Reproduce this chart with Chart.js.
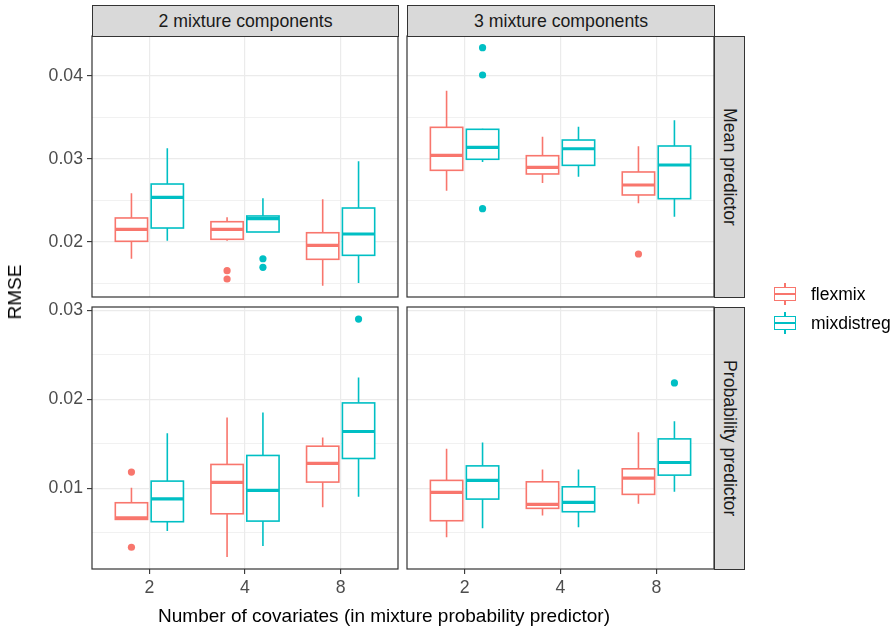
<!DOCTYPE html>
<html>
<head>
<meta charset="utf-8">
<script src="https://cdn.jsdelivr.net/npm/chart.js@4.4.1/dist/chart.umd.min.js"></script>
<style>
    body { margin: 0; background: #fff; font-family: "Liberation Sans", Arial, sans-serif; }
    #wrap { position: relative; width: 896px; height: 630px; overflow: hidden; }
    #wrap canvas { position: absolute; left: 0; top: 0; }
    .strip { position: absolute; background: #D9D9D9; border: 1.2px solid #333; box-sizing: border-box;
             color: #1A1A1A; font-size: 17.7px; display: flex; align-items: center; justify-content: center; }
    .strip.v span { writing-mode: vertical-rl; }
    .title { position: absolute; color: #000; font-size: 19px; white-space: nowrap; }
    .key { position: absolute; width: 24px; height: 22px; }
    .key .box { position: absolute; left: 1px; top: 4px; width: 22px; height: 14px; border: 1.6px solid; box-sizing: border-box; background: #fff; }
    .key .med { position: absolute; left: 1px; top: 10px; width: 22px; height: 2px; }
    .key .wh { position: absolute; left: 11px; width: 1.6px; }
    .ltext { position: absolute; font-size: 17.5px; color: #000; line-height: 20px; }
</style>
</head>
<body>
<div id="wrap">
    <canvas id="cTL" width="896" height="630"></canvas>
    <canvas id="cTR" width="896" height="630"></canvas>
    <canvas id="cBL" width="896" height="630"></canvas>
    <canvas id="cBR" width="896" height="630"></canvas>

    <div class="strip" style="left:92px;top:5px;width:307px;height:32px;">2 mixture components</div>
    <div class="strip" style="left:407px;top:5px;width:308px;height:32px;">3 mixture components</div>
    <div class="strip v" style="left:714px;top:36px;width:31px;height:262px;"><span>Mean predictor</span></div>
    <div class="strip v" style="left:714px;top:307px;width:31px;height:263px;"><span>Probability predictor</span></div>

    <div class="title" style="left:384px;top:605px;transform:translateX(-50%);">Number of covariates (in mixture probability predictor)</div>
    <div class="title" style="left:15px;top:292px;transform:translate(-50%,-50%) rotate(-90deg);">RMSE</div>

    <div id="legend"></div>
</div>

<script>
    const categories = ["2", "4", "8"];
    const seriesNames = ["flexmix", "mixdistreg"];
    const seriesColors = ["#F8766D", "#00BFC4"];

    // each box: [lower whisker, q1, median, q3, upper whisker]
    const meanK2Flexmix = [
        [0.01795, 0.02005, 0.02149, 0.02286, 0.02583],
        [0.02012, 0.02029, 0.02149, 0.02241, 0.02294],
        [0.01470, 0.01788, 0.01957, 0.02108, 0.02511]
    ];
    const meanK2Mixdistreg = [
        [0.02012, 0.02165, 0.02535, 0.02695, 0.03125],
        [0.02117, 0.02117, 0.02277, 0.02310, 0.02523],
        [0.01502, 0.01836, 0.02093, 0.02406, 0.02969]
    ];
    const meanK2FlexmixOut = [[], [0.01651, 0.01551], []];
    const meanK2MixdistregOut = [[], [0.01795, 0.01692], []];

    const meanK3Flexmix = [
        [0.02614, 0.02860, 0.03041, 0.03378, 0.03819],
        [0.02707, 0.02816, 0.02896, 0.03036, 0.03265],
        [0.02463, 0.02563, 0.02683, 0.02840, 0.03149]
    ];
    const meanK3Mixdistreg = [
        [0.02960, 0.02993, 0.03137, 0.03354, 0.03361],
        [0.02783, 0.02920, 0.03120, 0.03225, 0.03386],
        [0.02301, 0.02518, 0.02924, 0.03153, 0.03463]
    ];
    const meanK3FlexmixOut = [[], [], [0.01852]];
    const meanK3MixdistregOut = [[0.04337, 0.04008, 0.02398], [], []];

    const probK2Flexmix = [
        [0.00645, 0.00652, 0.00670, 0.00839, 0.01007],
        [0.00230, 0.00715, 0.01067, 0.01269, 0.01796],
        [0.00787, 0.01071, 0.01280, 0.01474, 0.01572]
    ];
    const probK2Mixdistreg = [
        [0.00521, 0.00626, 0.00883, 0.01082, 0.01620],
        [0.00353, 0.00633, 0.00978, 0.01370, 0.01852],
        [0.00906, 0.01336, 0.01639, 0.01960, 0.02244]
    ];
    const probK2FlexmixOut = [[0.01183, 0.00339], [], []];
    const probK2MixdistregOut = [[], [], [0.02901]];

    const probK3Flexmix = [
        [0.00451, 0.00637, 0.00955, 0.01090, 0.01444],
        [0.00697, 0.00776, 0.00821, 0.01074, 0.01213],
        [0.00827, 0.00933, 0.01115, 0.01220, 0.01631]
    ];
    const probK3Mixdistreg = [
        [0.00552, 0.00880, 0.01090, 0.01253, 0.01516],
        [0.00563, 0.00738, 0.00843, 0.01018, 0.01213],
        [0.00962, 0.01149, 0.01291, 0.01556, 0.01754]
    ];
    const probK3FlexmixOut = [[], [], []];
    const probK3MixdistregOut = [[], [], [0.02184]];

    // y axis ticks (minor ticks have an empty label)
    const meanTicks = [0.015, 0.02, 0.025, 0.03, 0.035, 0.04];
    const meanTickLabels = ["", "0.02", "", "0.03", "", "0.04"];
    const probTicks = [0.005, 0.01, 0.015, 0.02, 0.025, 0.03];
    const probTickLabels = ["", "0.01", "", "0.02", "", "0.03"];

    Chart.defaults.font.family = "'Liberation Sans', Arial, sans-serif";
    Chart.defaults.font.size = 17.7;

    const dodge = [-0.1875, 0.1875];
    const boxWidth = 0.3375;

    const boxPlugin = {
        id: "boxes",
        beforeDatasetsDraw(chart, args, opts) {
            const { ctx, scales: { x, y } } = chart;
            const half = (x.getPixelForValue(1 + boxWidth / 2) - x.getPixelForValue(1));
            ctx.save();
            opts.series.forEach((boxes, si) => {
                ctx.strokeStyle = seriesColors[si];
                boxes.forEach((b, i) => {
                    const xc = x.getPixelForValue(i + 1 + dodge[si]);
                    const [lo, q1, med, q3, hi] = b.map(v => y.getPixelForValue(v));
                    ctx.lineWidth = 1.6;
                    ctx.beginPath();
                    ctx.moveTo(xc, q3); ctx.lineTo(xc, hi);
                    ctx.moveTo(xc, q1); ctx.lineTo(xc, lo);
                    ctx.stroke();
                    ctx.fillStyle = "#fff";
                    ctx.fillRect(xc - half, q3, half * 2, q1 - q3);
                    ctx.strokeRect(xc - half, q3, half * 2, q1 - q3);
                    ctx.lineWidth = 3.2;
                    ctx.beginPath();
                    ctx.moveTo(xc - half, med); ctx.lineTo(xc + half, med);
                    ctx.stroke();
                });
            });
            ctx.restore();
        },
        afterDraw(chart) {
            const { ctx, chartArea: a } = chart;
            ctx.save();
            ctx.strokeStyle = "#333333";
            ctx.lineWidth = 1.2;
            ctx.strokeRect(a.left, a.top, a.right - a.left, a.bottom - a.top);
            ctx.restore();
        }
    };

    function outlierPoints(outs, off) {
        const pts = [];
        outs.forEach((vals, i) => vals.forEach(v => pts.push({ x: i + 1 + off, y: v })));
        return pts;
    }

    function makePanel(id, rect, p) {
        const yW = p.showY ? 52 : 0;
        const xH = p.showX ? 30 : 0;
        new Chart(document.getElementById(id), {
            type: "scatter",
            data: {
                datasets: [
                    { label: seriesNames[0], data: outlierPoints(p.outs[0], dodge[0]),
                      backgroundColor: seriesColors[0], borderWidth: 0, pointRadius: 3.6 },
                    { label: seriesNames[1], data: outlierPoints(p.outs[1], dodge[1]),
                      backgroundColor: seriesColors[1], borderWidth: 0, pointRadius: 3.6 }
                ]
            },
            options: {
                responsive: false,
                animation: false,
                events: [],
                layout: {
                    padding: { left: rect.left - yW, right: 896 - rect.right, top: rect.top, bottom: 630 - rect.bottom - xH }
                },
                plugins: {
                    legend: { display: false },
                    tooltip: { enabled: false },
                    boxes: { series: p.boxes }
                },
                scales: {
                    x: {
                        type: "linear",
                        min: 0.4,
                        max: 3.6,
                        afterBuildTicks: s => { s.ticks = categories.map((c, i) => ({ value: i + 1 })); },
                        afterFit: s => { s.height = xH; },
                        ticks: {
                            display: p.showX,
                            color: "#4D4D4D",
                            padding: 3,
                            maxRotation: 0,
                            callback: (v) => categories[Math.round(v) - 1]
                        },
                        grid: {
                            color: "#EBEBEB",
                            lineWidth: 1.2,
                            drawTicks: p.showX,
                            tickLength: 5,
                            tickColor: "#333333",
                            tickWidth: 1.1
                        },
                        border: { display: false }
                    },
                    y: {
                        type: "linear",
                        min: p.yMin,
                        max: p.yMax,
                        afterBuildTicks: s => { s.ticks = p.ticks.map(v => ({ value: v })); },
                        afterFit: s => { s.width = yW; },
                        ticks: {
                            display: p.showY,
                            color: "#4D4D4D",
                            padding: 4,
                            callback: (v, i) => p.tickLabels[i]
                        },
                        grid: {
                            color: "#EBEBEB",
                            lineWidth: c => (c.tick && p.tickLabels[c.index] === "" ? 0.7 : 1.2),
                            drawTicks: p.showY,
                            tickLength: 5,
                            tickColor: c => (p.tickLabels[c.index] === "" ? "rgba(0,0,0,0)" : "#333333"),
                            tickWidth: 1.1
                        },
                        border: { display: false }
                    }
                }
            },
            plugins: [boxPlugin]
        });
    }

    const meanRange = [0.01334, 0.04478];
    const probRange = [0.00095, 0.03037];

    makePanel("cTL", { left: 92, right: 398, top: 36, bottom: 297 }, {
        showY: true, showX: false, yMin: meanRange[0], yMax: meanRange[1],
        ticks: meanTicks, tickLabels: meanTickLabels,
        boxes: [meanK2Flexmix, meanK2Mixdistreg], outs: [meanK2FlexmixOut, meanK2MixdistregOut]
    });
    makePanel("cTR", { left: 407, right: 714, top: 36, bottom: 297 }, {
        showY: false, showX: false, yMin: meanRange[0], yMax: meanRange[1],
        ticks: meanTicks, tickLabels: meanTickLabels,
        boxes: [meanK3Flexmix, meanK3Mixdistreg], outs: [meanK3FlexmixOut, meanK3MixdistregOut]
    });
    makePanel("cBL", { left: 92, right: 398, top: 307, bottom: 569 }, {
        showY: true, showX: true, yMin: probRange[0], yMax: probRange[1],
        ticks: probTicks, tickLabels: probTickLabels,
        boxes: [probK2Flexmix, probK2Mixdistreg], outs: [probK2FlexmixOut, probK2MixdistregOut]
    });
    makePanel("cBR", { left: 407, right: 714, top: 307, bottom: 569 }, {
        showY: false, showX: true, yMin: probRange[0], yMax: probRange[1],
        ticks: probTicks, tickLabels: probTickLabels,
        boxes: [probK3Flexmix, probK3Mixdistreg], outs: [probK3FlexmixOut, probK3MixdistregOut]
    });

    // legend with boxplot keys
    const legend = document.getElementById("legend");
    seriesNames.forEach((name, i) => {
        const top = 283 + i * 29;
        const col = seriesColors[i];
        legend.innerHTML += `
            <div class="key" style="left:773px;top:${top}px">
                <div class="wh" style="top:0;height:5px;background:${col}"></div>
                <div class="wh" style="top:17px;height:5px;background:${col}"></div>
                <div class="box" style="border-color:${col}"></div>
                <div class="med" style="background:${col}"></div>
            </div>
            <div class="ltext" style="left:811px;top:${top + 1}px">${name}</div>
        `;
    });
</script>
</body>
</html>
